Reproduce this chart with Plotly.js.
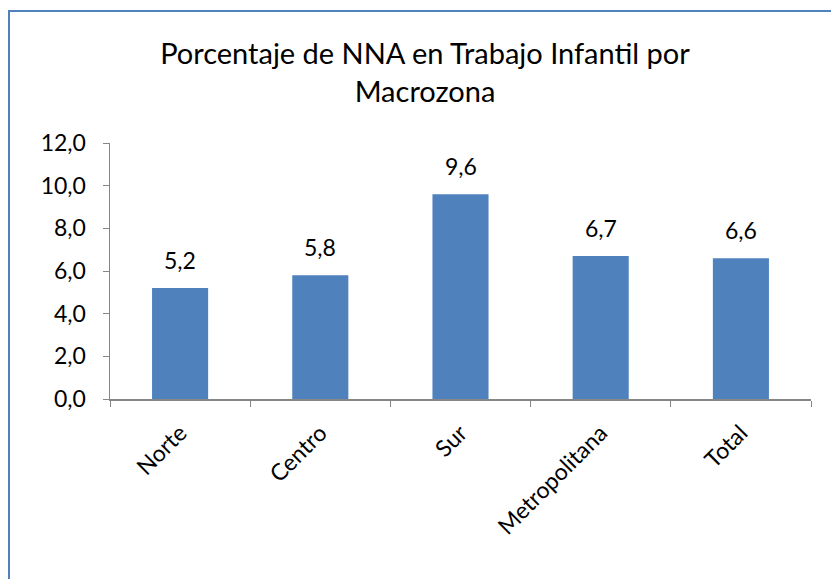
<!DOCTYPE html>
<html>
<head>
<meta charset="utf-8">
<script src="https://cdn.plot.ly/plotly-3.0.1.min.js"></script>
<style>
  body { margin: 0; background: #fff; }
  #frame { position: absolute; left: 8px; top: 10px; width: 840px; height: 600px;
           border-left: 2px solid #4f81bd; border-top: 2px solid #4f81bd; }
  #plot { position: absolute; left: 0; top: 0; width: 831px; height: 579px; }
</style>
</head>
<body>
<div id="frame"></div>
<div id="plot"></div>
<script>
// Macrozonas y porcentaje de NNA en trabajo infantil
var zonas = ["Norte", "Centro", "Sur", "Metropolitana", "Total"];
var porcentajes = [5.2, 5.8, 9.6, 6.7, 6.6];
var yTicks = [0, 2, 4, 6, 8, 10, 12];

var fuente = "Lato, 'Open Sans', sans-serif";

var trace1 =
{
    x: zonas,
    y: porcentajes,
    type: "bar",
    marker: { color: "#4f81bd" },
    hoverinfo: "x+y"
};

// etiquetas de datos encima de cada barra
var etiquetas = zonas.map(function (z, i) {
    return {
        x: z,
        y: porcentajes[i],
        text: porcentajes[i].toFixed(1).replace(".", ","),
        showarrow: false,
        yanchor: "bottom",
        yshift: 12,
        font: { family: fuente, size: 23, color: "#000" }
    };
});

var layout =
{
    width: 831,
    height: 579,
    margin: { l: 110, r: 20, t: 143, b: 180 },
    paper_bgcolor: "rgba(0,0,0,0)",
    plot_bgcolor: "rgba(0,0,0,0)",
    separators: ",.",
    showlegend: false,
    bargap: 0.6,
    font: { family: fuente, color: "#000" },
    title: {
        text: "Porcentaje de NNA en Trabajo Infantil por<br>Macrozona",
        x: 425 / 831,
        xanchor: "center",
        xref: "container",
        y: 1 - 64 / 579,
        yanchor: "top",
        yref: "container",
        font: { family: fuente, size: 29, color: "#000" }
    },
    xaxis: {
        type: "category",
        showline: true,
        linecolor: "#868686",
        linewidth: 1.5,
        ticks: "outside",
        tickson: "boundaries",
        ticklen: 6,
        tickcolor: "#868686",
        tickangle: -45,
        ticklabelstandoff: 10,
        tickfont: { family: fuente, size: 23, color: "#000" },
        showgrid: false,
        zeroline: false
    },
    yaxis: {
        range: [0, 12],
        tickvals: yTicks,
        tickformat: ".1f",
        showline: true,
        linecolor: "#868686",
        linewidth: 1.5,
        ticks: "outside",
        ticklen: 6,
        tickcolor: "#868686",
        ticklabelstandoff: 12,
        tickfont: { family: fuente, size: 23, color: "#000" },
        showgrid: false,
        zeroline: false
    },
    annotations: etiquetas
};

Plotly.newPlot("plot", [trace1], layout, { displayModeBar: false, staticPlot: true });
</script>
</body>
</html>
